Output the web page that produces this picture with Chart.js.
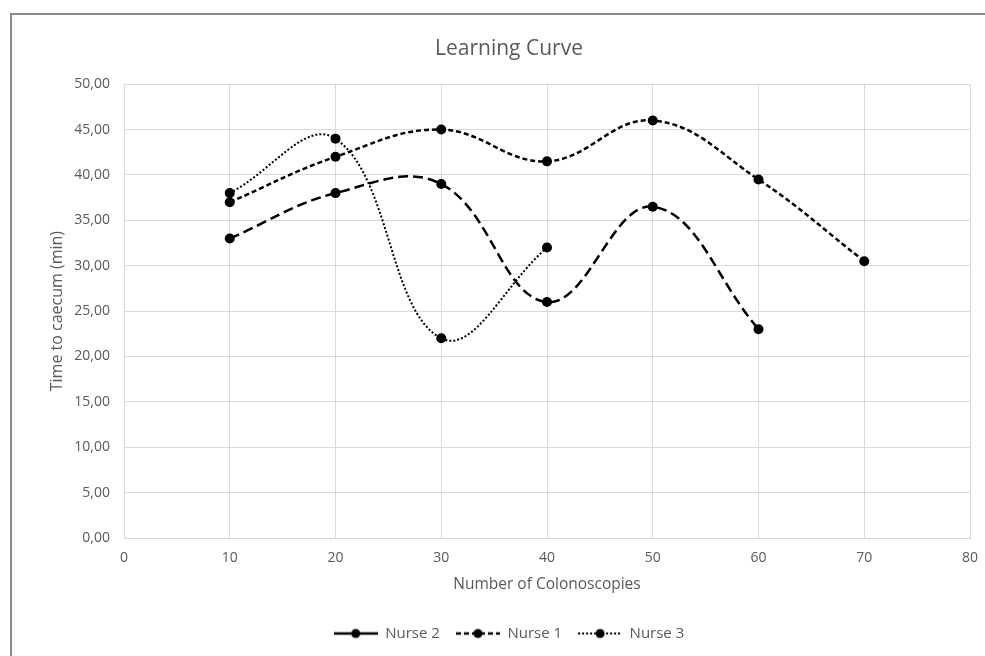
<!DOCTYPE html>
<html>
<head>
<meta charset="utf-8">
<script src="https://cdn.jsdelivr.net/npm/chart.js@4"></script>
<style>
  html, body { margin: 0; padding: 0; background: #fff; }
  #wrap { position: relative; width: 985px; height: 656px; overflow: hidden; }
  #frame { position: absolute; left: 10px; top: 13px; width: 1000px; height: 700px;
           border-top: 2px solid #8c8c8c; border-left: 2px solid #8c8c8c; }
  canvas { position: absolute; left: 0; top: 0; }
</style>
</head>
<body>
<div id="wrap">
  <div id="frame"></div>
  <canvas id="chart" width="985" height="656"></canvas>
</div>
<script>
  const colonoscopies = [10, 20, 30, 40, 50, 60, 70];
  const nurse2 = [33, 38, 39, 26, 36.5, 23];
  const nurse1 = [37, 42, 45, 41.5, 46, 39.5, 30.5];
  const nurse3 = [38, 44, 22, 32];

  const TEXT = '#595959';
  const GRID = '#d9d9d9';
  const FONT = "'Open Sans', sans-serif";

  function pts(values) {
    return values.map((v, i) => ({ x: colonoscopies[i], y: v }));
  }

  // little line + dot pictures for the legend
  function legendIcon(dash, width) {
    const c = document.createElement('canvas');
    c.width = 44; c.height = 12;
    const g = c.getContext('2d');
    g.strokeStyle = '#000';
    g.lineWidth = width;
    g.setLineDash(dash);
    g.beginPath(); g.moveTo(0, 6); g.lineTo(44, 6); g.stroke();
    g.setLineDash([]);
    g.fillStyle = '#000';
    g.beginPath(); g.arc(22, 6, 4.5, 0, Math.PI * 2); g.fill();
    return c;
  }

  const series = [
    { label: 'Nurse 2', data: nurse2, dash: [10, 5], width: 2.5, icon: legendIcon([20, 0], 2.5) },
    { label: 'Nurse 1', data: nurse1, dash: [5, 3], width: 2.5, icon: legendIcon([5, 3], 2.5) },
    { label: 'Nurse 3', data: nurse3, dash: [2, 2], width: 2, icon: legendIcon([2, 2], 2) }
  ];

  new Chart(document.getElementById('chart'), {
    type: 'line',
    data: {
      datasets: series.map(s => ({
        label: s.label,
        data: pts(s.data),
        borderColor: '#000',
        backgroundColor: '#000',
        borderWidth: s.width,
        borderDash: s.dash,
        tension: 0.4,
        pointRadius: 5,
        pointHoverRadius: 5,
        pointBackgroundColor: '#000',
        pointBorderColor: '#000',
        pointBorderWidth: 0,
        fill: false
      }))
    },
    options: {
      responsive: false,
      animation: false,
      events: [],
      layout: { padding: { left: 48, right: 15, top: 0, bottom: 5 } },
      plugins: {
        title: {
          display: true,
          text: 'Learning Curve',
          color: TEXT,
          font: { family: FONT, size: 21, weight: 'normal' },
          padding: { top: 36, bottom: 23 }
        },
        legend: {
          position: 'bottom',
          labels: {
            color: TEXT,
            font: { family: FONT, size: 15 },
            usePointStyle: true,
            pointStyleWidth: 44,
            padding: 16,
            generateLabels(chart) {
              const items = Chart.defaults.plugins.legend.labels.generateLabels(chart);
              items.forEach((it, i) => { it.pointStyle = series[i].icon; });
              return items;
            }
          }
        },
        tooltip: { enabled: false }
      },
      scales: {
        x: {
          type: 'linear',
          min: 0, max: 80,
          afterFit(s) { s.height = 72; s.paddingLeft = 0; s.paddingRight = 8; },
          ticks: { stepSize: 10, color: TEXT, font: { family: FONT, size: 14 }, padding: 12, maxRotation: 0 },
          grid: { color: GRID, drawTicks: false, lineWidth: 1 },
          border: { color: GRID },
          title: {
            display: true,
            text: 'Number of Colonoscopies',
            color: TEXT,
            font: { family: FONT, size: 15.5 },
            padding: { top: 4, bottom: 16 }
          }
        },
        y: {
          min: 0, max: 50,
          afterFit(s) { s.width = 76; },
          ticks: {
            stepSize: 5, color: TEXT, font: { family: FONT, size: 14 }, padding: 14,
            callback: v => v.toFixed(2).replace('.', ',')
          },
          grid: { color: GRID, drawTicks: false, lineWidth: 1 },
          border: { color: GRID },
          title: {
            display: true,
            text: 'Time to caecum (min)',
            color: TEXT,
            font: { family: FONT, size: 16 },
            padding: { top: 0, bottom: 4 }
          }
        }
      }
    }
  });
</script>
</body>
</html>
